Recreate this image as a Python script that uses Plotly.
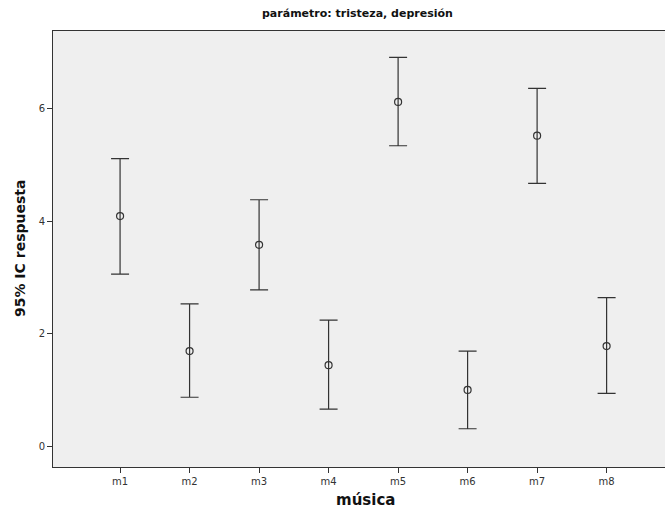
import plotly.graph_objects as go

categories = ["m1", "m2", "m3", "m4", "m5", "m6", "m7", "m8"]
means = [4.09, 1.69, 3.58, 1.44, 6.12, 1.00, 5.52, 1.78]
upper = [5.11, 2.53, 4.38, 2.24, 6.91, 1.69, 6.36, 2.64]
lower = [3.06, 0.87, 2.78, 0.66, 5.34, 0.31, 4.67, 0.94]
y_ticks = [0, 2, 4, 6]

err_plus = [u - m for u, m in zip(upper, means)]
err_minus = [m - l for m, l in zip(means, lower)]

FONT = "DejaVu Sans"
INK = "#333333"

fig = go.Figure()
fig.add_trace(go.Scatter(
    x=categories, y=means, mode="markers",
    marker=dict(symbol="circle-open", size=7, color=INK, line=dict(width=1.2, color=INK)),
    error_y=dict(type="data", symmetric=False, array=err_plus, arrayminus=err_minus,
                 color=INK, thickness=1.2, width=9),
    showlegend=False, hoverinfo="skip",
))

fig.update_layout(
    width=665, height=517,
    margin=dict(l=53, r=0, t=31, b=50),
    paper_bgcolor="white", plot_bgcolor="#efefef",
    font=dict(family=FONT, color=INK),
    xaxis=dict(type="category", categoryorder="array", categoryarray=categories,
               range=[-0.965, 7.84], showgrid=False, zeroline=False,
               showline=True, linecolor=INK, linewidth=1, mirror=True,
               ticks="outside", ticklen=5, tickcolor=INK, tickwidth=1,
               tickfont=dict(size=10, family=FONT, color=INK)),
    yaxis=dict(range=[-0.37, 7.38], tickvals=y_ticks, showgrid=False, zeroline=False,
               showline=True, linecolor=INK, linewidth=1,
               ticks="outside", ticklen=5, tickcolor=INK, tickwidth=1,
               tickfont=dict(size=10, family=FONT, color=INK)),
    annotations=[
        dict(text="<b>parámetro: tristeza, depresión</b>", xref="paper", yref="paper",
             x=0.497, y=1.039, xanchor="center", yanchor="middle", showarrow=False,
             font=dict(size=11, family=FONT, color="#111111")),
        dict(text="<b>música</b>", xref="paper", yref="paper",
             x=0.51, y=-0.0757, xanchor="center", yanchor="middle", showarrow=False,
             font=dict(size=15, family=FONT, color="#111111")),
        dict(text="<b>95% IC respuesta</b>", xref="paper", yref="paper",
             x=-0.0539, y=0.5, xanchor="center", yanchor="middle", showarrow=False,
             textangle=-90, font=dict(size=14, family=FONT, color="#111111")),
    ],
)

fig.write_html("out.html")
